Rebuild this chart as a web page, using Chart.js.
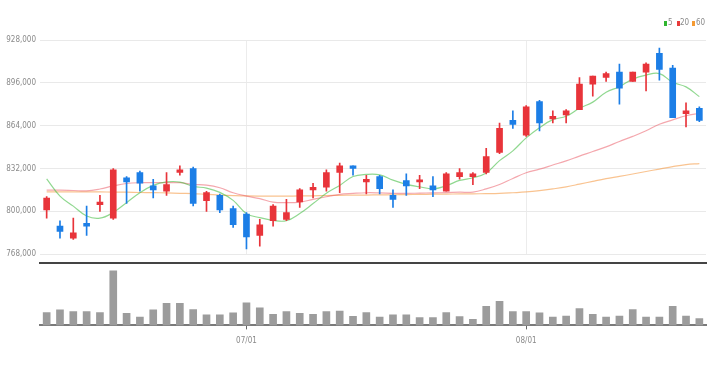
<!DOCTYPE html>
<html>
<head>
<meta charset="utf-8">
<script src="https://cdn.jsdelivr.net/npm/chart.js@4/dist/chart.umd.min.js"></script>
<style>
  html, body { margin: 0; padding: 0; background: #fff; }
  #wrap { position: relative; width: 720px; height: 365px; overflow: hidden; }
  canvas { position: absolute; left: 0; }
  #legend { position: absolute; top: 18px; left: 664px; height: 10px; }
  #legend span { position: absolute; top: 0; font: 8px 'Liberation Sans Narrow', 'DejaVu Sans Condensed', sans-serif; color: #8a8a8a; line-height: 10px; }
  #legend i { position: absolute; top: 3px; width: 3px; height: 5px; }
</style>
</head>
<body>
<div id="wrap">
  <canvas id="price" width="720" height="263" style="top:0;width:720px;height:263px"></canvas>
  <canvas id="volume" width="720" height="110" style="top:255px;width:720px;height:110px"></canvas>
  <div id="legend"></div>
</div>
<script>
// 日付 (2022/06/10 ～ 08/19)
const dates = [
  "06/10", "06/13", "06/14", "06/15", "06/16", "06/17", "06/20", "06/21", "06/22", "06/23",
  "06/24", "06/27", "06/28", "06/29", "06/30", "07/01", "07/04", "07/05", "07/06", "07/07",
  "07/08", "07/11", "07/12", "07/13", "07/14", "07/15", "07/18", "07/19", "07/20", "07/21",
  "07/22", "07/25", "07/26", "07/27", "07/28", "07/29", "08/01", "08/02", "08/03", "08/04",
  "08/05", "08/08", "08/09", "08/10", "08/11", "08/12", "08/16", "08/17", "08/18", "08/19"
];
const tickDates = ["07/01", "08/01"];

// 四本値
const opens = [
  801000, 789000, 780000, 791000, 805000, 795000, 825000, 829000, 819000, 815000,
  829000, 832000, 808000, 812000, 802000, 798000, 782000, 793000, 794000, 807000,
  816000, 818000, 829000, 834000, 822000, 826000, 812000, 823000, 822000, 819000,
  815000, 826000, 826000, 829000, 844000, 868000, 857000, 882000, 869000, 872000,
  876000, 895000, 900000, 904000, 897000, 904000, 918000, 907000, 873000, 877000
];
const highs = [
  811000, 793000, 795000, 804000, 812000, 832000, 826000, 830000, 824000, 829000,
  834000, 833000, 815000, 813000, 804000, 799000, 794000, 805000, 809000, 817000,
  821000, 831000, 836000, 834000, 827000, 827000, 816000, 828000, 827000, 826000,
  829000, 832000, 829000, 847000, 866000, 875000, 879000, 883000, 875000, 876000,
  900000, 901000, 904000, 910000, 904000, 911000, 922000, 909000, 881000, 878000
];
const lows = [
  795000, 780000, 779000, 782000, 800000, 794000, 806000, 815000, 810000, 812000,
  827000, 804000, 800000, 799000, 788000, 772000, 774000, 789000, 793000, 803000,
  810000, 815000, 814000, 827000, 813000, 813000, 803000, 812000, 817000, 811000,
  815000, 824000, 820000, 828000, 843000, 862000, 856000, 860000, 866000, 866000,
  876000, 886000, 897000, 880000, 897000, 890000, 898000, 870000, 863000, 867000
];
const closes = [
  810000, 785000, 784000, 789000, 807000, 831000, 822000, 821000, 816000, 820000,
  831000, 806000, 814000, 801000, 790000, 781000, 790000, 804000, 799000, 816000,
  818000, 829000, 834000, 832000, 824000, 817000, 809000, 819000, 823000, 816000,
  828000, 829000, 828000, 841000, 862000, 865000, 878000, 866000, 871000, 875000,
  895000, 901000, 903000, 892000, 904000, 910000, 906000, 870000, 875000, 868000
];

// 出来高 (千株)
const volumes = [
  126, 153, 137, 137, 126, 537, 120, 83, 153, 217,
  217, 157, 103, 103, 123, 223, 173, 110, 137, 120,
  110, 137, 140, 90, 126, 83, 103, 103, 77, 77,
  126, 87, 60, 187, 237, 137, 137, 123, 83, 93,
  167, 110, 83, 93, 157, 83, 83, 187, 93, 67
];

// 移動平均線
const ma5 = [
  824300, 811400, 803900, 796500, 794900, 799200, 806500, 813900, 819400, 822000,
  821900, 818600, 817400, 814200, 808200, 798300, 795300, 793300, 793000, 798400,
  805800, 813500, 819400, 826000, 827600, 827300, 823300, 820200, 818400, 816800,
  819100, 823100, 825100, 828700, 837900, 845200, 854900, 862500, 868500, 871000,
  877000, 881600, 889000, 893100, 898800, 901800, 902900, 896400, 893000, 885700
];
const ma20 = [
  815900, 815900, 815600, 815300, 816700, 819000, 820800, 821400, 821400, 821400,
  821400, 820100, 819600, 817600, 813900, 811400, 809500, 806900, 806500, 806900,
  808900, 810900, 812700, 813400, 813900, 813800, 813500, 813400, 813600, 813800,
  814000, 814300, 814400, 816800, 820100, 824600, 828800, 831500, 834600, 837700,
  841300, 844700, 848200, 852200, 856000, 860200, 865100, 868300, 871400, 873300
];
const ma60 = [
  814500, 814500, 814500, 814500, 814500, 814400, 814300, 814100, 814000, 813800,
  813500, 813300, 812700, 812200, 811800, 811500, 811400, 811400, 811400, 811500,
  811600, 811800, 812000, 812100, 812200, 812300, 812400, 812500, 812700, 812800,
  812900, 813000, 813100, 813200, 813400, 813900, 814500, 815500, 816800, 818300,
  820300, 822400, 824400, 826100, 827900, 829800, 831600, 833400, 834900, 835700
];

const maNames = ["5", "20", "60"];
const maLineColors = ["rgba(70,190,70,0.6)", "rgba(235,95,105,0.55)", "rgba(245,155,70,0.6)"];
const maLegendColors = ["#2fb52f", "#e83a3a", "#f59a32"];

const UP = "#e8343a";
const DOWN = "#1c7ee6";
const FONT = "'Liberation Sans Narrow', 'DejaVu Sans Condensed', sans-serif";

Chart.defaults.font.family = FONT;
Chart.defaults.animation = false;

const candleColors = closes.map((c, i) => (c >= opens[i] ? UP : DOWN));
const isTick = i => tickDates.includes(dates[i]);

// 価格チャート
new Chart(document.getElementById("price"), {
  type: "bar",
  data: {
    labels: dates,
    datasets: [
      ...[ma5, ma20, ma60].map((d, k) => ({
        type: "line",
        label: maNames[k],
        data: d,
        borderColor: maLineColors[k],
        borderWidth: 1.2,
        pointRadius: 0,
        tension: 0.4,
        order: 3
      })),
      {
        label: "wick",
        data: lows.map((l, i) => [l, highs[i]]),
        backgroundColor: candleColors,
        barThickness: 1,
        grouped: false,
        order: 2
      },
      {
        label: "body",
        data: opens.map((o, i) => [o, closes[i]]),
        backgroundColor: candleColors,
        barThickness: 6,
        minBarLength: 2,
        grouped: false,
        order: 1
      }
    ]
  },
  options: {
    responsive: false,
    devicePixelRatio: 1,
    layout: { padding: { top: 40, bottom: 8, left: 0, right: 14 } },
    plugins: { legend: { display: false }, tooltip: { enabled: false } },
    scales: {
      x: {
        offset: true,
        ticks: { display: false },
        border: { display: false },
        grid: {
          offset: false,
          drawTicks: false,
          color: ctx => (isTick(ctx.index) ? "#ececec" : "rgba(0,0,0,0)")
        }
      },
      y: {
        min: 768000,
        max: 928000,
        afterFit: s => { s.width = 40; },
        border: { display: false },
        grid: { color: "#e9e9e9", drawTicks: false },
        ticks: {
          stepSize: 32000,
          padding: 4,
          color: "#8a8a8a",
          font: { size: 8 },
          callback: v => v.toLocaleString("en-US")
        }
      }
    }
  }
});

// 出来高チャート
new Chart(document.getElementById("volume"), {
  type: "bar",
  data: {
    labels: dates,
    datasets: [{
      label: "volume",
      data: volumes,
      backgroundColor: "#9c9c9c",
      barThickness: 7
    }]
  },
  options: {
    responsive: false,
    devicePixelRatio: 1,
    layout: { padding: { top: 8, bottom: 12, left: 40, right: 14 } },
    plugins: { legend: { display: false }, tooltip: { enabled: false } },
    scales: {
      x: {
        offset: true,
        border: { display: true, color: "#7a7a7a", width: 2 },
        grid: {
          offset: false,
          drawOnChartArea: false,
          tickLength: 4,
          color: ctx => (isTick(ctx.index) ? "#666" : "rgba(0,0,0,0)")
        },
        ticks: {
          autoSkip: false,
          maxRotation: 0,
          padding: 7,
          color: "#8a8a8a",
          font: { size: 8 },
          callback: (v, i) => (isTick(i) ? dates[i] : "")
        }
      },
      xTop: {
        type: "category",
        position: "top",
        offset: true,
        labels: dates,
        border: { display: true, color: "#444", width: 2 },
        grid: { drawOnChartArea: false, drawTicks: false },
        ticks: { display: false }
      },
      y: { display: false, min: 0, max: 615 }
    }
  }
});

// 凡例
const legendPos = [[0, 4], [13, 16], [28, 32]];
const legend = document.getElementById("legend");
maNames.forEach((name, k) => {
  const sw = document.createElement("i");
  sw.style.left = legendPos[k][0] + "px";
  sw.style.background = maLegendColors[k];
  const tx = document.createElement("span");
  tx.style.left = legendPos[k][1] + "px";
  tx.textContent = name;
  legend.appendChild(sw);
  legend.appendChild(tx);
});
</script>
</body>
</html>
